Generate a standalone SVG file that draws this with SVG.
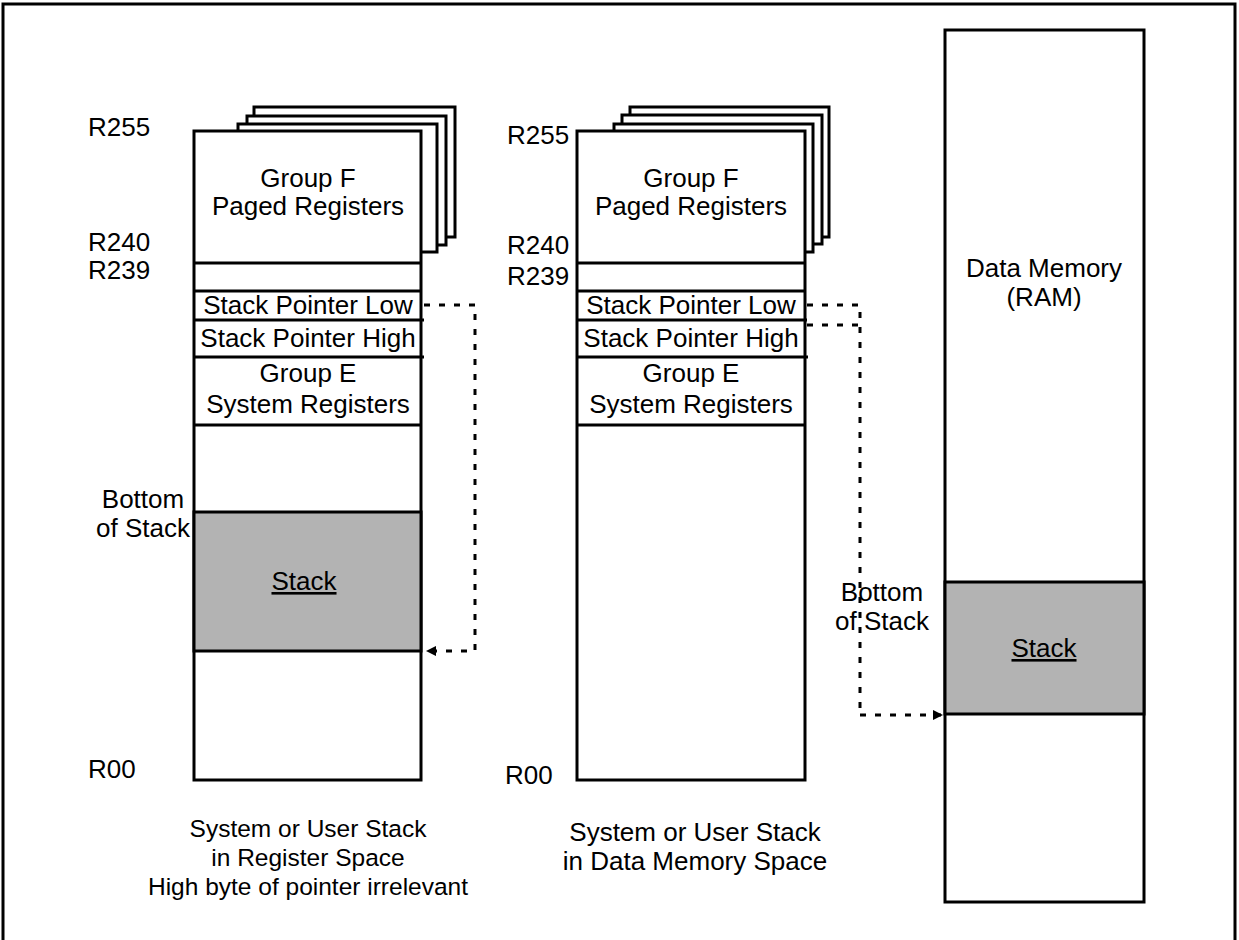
<svg xmlns="http://www.w3.org/2000/svg" width="1239" height="940" viewBox="0 0 1239 940">
<defs>
<style>
.box{fill:#fff;stroke:#000;stroke-width:3}
.ln{stroke:#000;stroke-width:3;fill:none}
.stk{fill:#b3b3b3;stroke:#000;stroke-width:3}
.dash{fill:none;stroke:#000;stroke-width:3;stroke-dasharray:6 9}
text{font-family:"Liberation Sans",Arial,sans-serif;font-size:26px;fill:#000}
.c{text-anchor:middle}
.cap{font-size:24.5px}
</style>
<marker id="ah" viewBox="0 0 10 10" refX="9" refY="5" markerWidth="3.5" markerHeight="3.5" orient="auto" markerUnits="strokeWidth">
<path d="M0,0 L10,5 L0,10 z" fill="#000"/>
</marker>
</defs>
<rect width="1239" height="940" fill="#fff"/>
<g id="frame"><path class="ln" d="M3,940 V4 H1235 V940" stroke-width="2"/></g>

<g id="left-stack">
<rect class="box" x="254" y="107" width="201" height="130"/>
<rect class="box" x="247" y="116" width="199" height="129"/>
<rect class="box" x="238" y="124" width="199" height="128"/>
<rect class="box" x="194" y="131" width="227" height="649"/>
<rect class="stk" x="194" y="512" width="227" height="139"/>
<line class="ln" x1="194" y1="263" x2="421" y2="263"/>
<line class="ln" x1="194" y1="291" x2="421" y2="291"/>
<line class="ln" x1="194" y1="320" x2="424" y2="320"/>
<line class="ln" x1="194" y1="357" x2="424" y2="357"/>
<line class="ln" x1="194" y1="425" x2="421" y2="425"/>
<text x="88" y="136">R255</text>
<text x="88" y="251">R240</text>
<text x="88" y="279">R239</text>
<text x="88" y="778">R00</text>
<text class="c" x="308" y="187">Group F</text>
<text class="c" x="308" y="215">Paged Registers</text>
<text class="c" x="308" y="314">Stack Pointer Low</text>
<text class="c" x="308" y="347">Stack Pointer High</text>
<text class="c" x="308" y="382">Group E</text>
<text class="c" x="308" y="413">System Registers</text>
<text class="c" x="143" y="508">Bottom</text>
<text class="c" x="143" y="537">of Stack</text>
<text class="c" x="304" y="590" text-decoration="underline">Stack</text>
<text class="c cap" x="308" y="837">System or User Stack</text>
<text class="c cap" x="308" y="866">in Register Space</text>
<text class="c cap" x="308" y="895">High byte of pointer irrelevant</text>
</g>

<g id="right-stack">
<rect class="box" x="630" y="107" width="199" height="130"/>
<rect class="box" x="622" y="115" width="200" height="129"/>
<rect class="box" x="614" y="124" width="199" height="128"/>
<rect class="box" x="577" y="131" width="228" height="649"/>
<line class="ln" x1="577" y1="263" x2="805" y2="263"/>
<line class="ln" x1="577" y1="291" x2="805" y2="291"/>
<line class="ln" x1="577" y1="320" x2="807" y2="320"/>
<line class="ln" x1="577" y1="357" x2="808" y2="357"/>
<line class="ln" x1="577" y1="425" x2="805" y2="425"/>
<text x="507" y="144">R255</text>
<text x="507" y="254">R240</text>
<text x="507" y="285">R239</text>
<text x="505" y="784">R00</text>
<text class="c" x="691" y="187">Group F</text>
<text class="c" x="691" y="215">Paged Registers</text>
<text class="c" x="691" y="314">Stack Pointer Low</text>
<text class="c" x="691" y="347">Stack Pointer High</text>
<text class="c" x="691" y="382">Group E</text>
<text class="c" x="691" y="413">System Registers</text>
<text class="c" x="695" y="841">System or User Stack</text>
<text class="c" x="695" y="870">in Data Memory Space</text>
</g>

<g id="data-memory">
<rect class="box" x="945" y="30" width="199" height="872"/>
<rect class="stk" x="945" y="582" width="199" height="132"/>
<text class="c" x="1044" y="277">Data Memory</text>
<text class="c" x="1044" y="306">(RAM)</text>
<text class="c" x="1044" y="657" text-decoration="underline">Stack</text>
<text class="c" x="882" y="601">Bottom</text>
<text class="c" x="882" y="630">of Stack</text>
</g>

<g id="connectors">
<path class="dash" d="M424,305 H475 V651 H427" marker-end="url(#ah)"/>
<path class="dash" d="M807,305 H860 V715"/>
<path class="dash" d="M807,325 H860"/>
<path class="dash" d="M860,715 H942" marker-end="url(#ah)"/>
</g>
</svg>
